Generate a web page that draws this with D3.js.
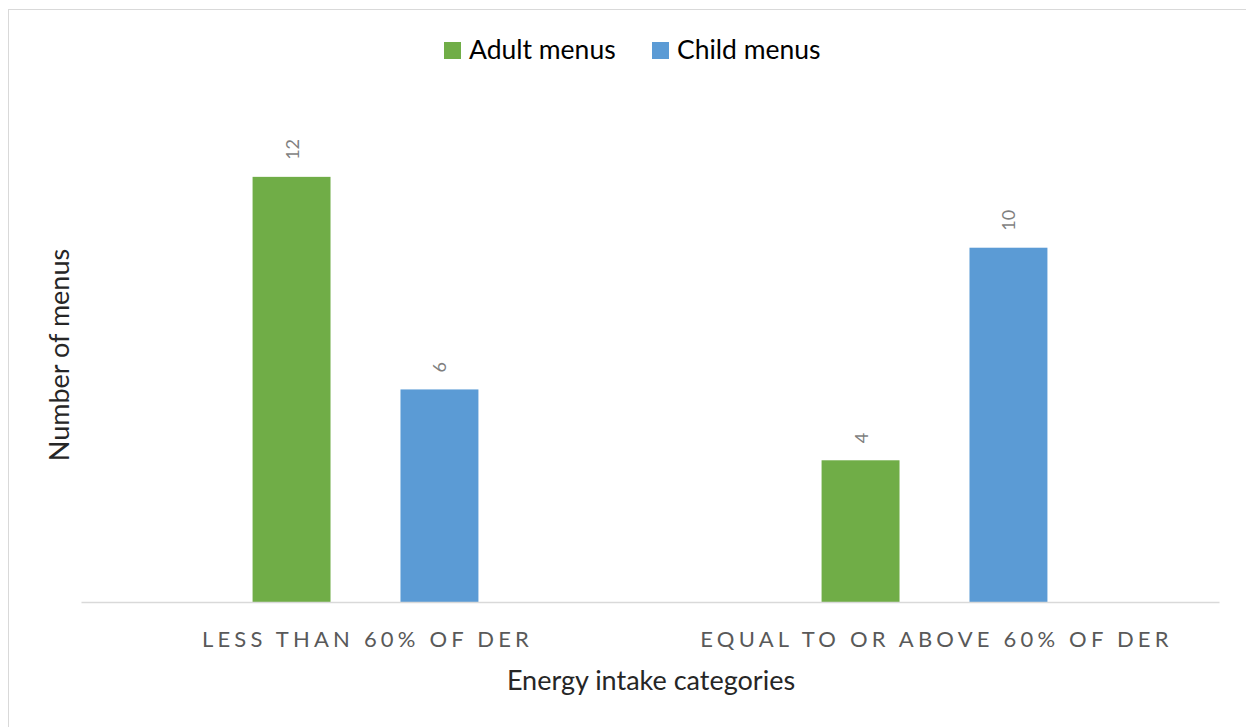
<!DOCTYPE html>
<html>
  <head>
    <meta charset="utf-8">
    <script src="https://cdn.jsdelivr.net/npm/d3@7"></script>
    <style>
      body { margin: 0; background: #fff; }
      text { font-family: Lato, "Open Sans", sans-serif; }
    </style>
  </head>
  <body>
    <svg id="chart" width="1246" height="727"></svg>
    <script>
      // chart data
      var categories = ["LESS THAN 60% OF DER", "EQUAL TO OR ABOVE 60% OF DER"];
      var seriesNames = ["Adult menus", "Child menus"];
      var adultValues = [12, 4];
      var childValues = [6, 10];
      var colors = ["#70ad47", "#5b9bd5"];

      var svg = d3.select("#chart");

      // outer frame (right and bottom edges fall off the picture)
      svg.append("rect")
        .attr("x", 8.5).attr("y", 9.5)
        .attr("width", 1260).attr("height", 740)
        .attr("fill", "none")
        .attr("stroke", "#d9d9d9")
        .attr("stroke-width", 1);

      var margin = {left: 81, right: 1219, top: 106, bottom: 602};

      var x0 = d3.scaleBand()
        .domain(categories)
        .range([margin.left, margin.right])
        .paddingInner(0)
        .paddingOuter(0);

      var x1 = d3.scaleBand()
        .domain(seriesNames)
        .range([0, x0.bandwidth()])
        .paddingInner(0.473)   // gap between the two bars
        .paddingOuter(1.16);

      var y = d3.scaleLinear()
        .domain([0, 14])
        .range([margin.bottom, margin.top]);

      var rows = categories.map(function(c, i) {
        return {cat: c, vals: [
          {name: seriesNames[0], v: adultValues[i], color: colors[0]},
          {name: seriesNames[1], v: childValues[i], color: colors[1]}
        ]};
      });

      var groups = svg.selectAll("g.cat").data(rows)
        .enter().append("g")
        .attr("class", "cat")
        .attr("transform", function(d) { return "translate(" + x0(d.cat) + ",0)"; });

      groups.selectAll("rect").data(function(d) { return d.vals; })
        .enter().append("rect")
        .attr("x", function(d) { return x1(d.name); })
        .attr("y", function(d) { return y(d.v); })
        .attr("width", x1.bandwidth())
        .attr("height", function(d) { return y(0) - y(d.v); })
        .attr("fill", function(d) { return d.color; });

      // rotated value labels
      groups.selectAll("text.val").data(function(d) { return d.vals; })
        .enter().append("text")
        .attr("class", "val")
        .attr("transform", function(d) {
          return "translate(" + (x1(d.name) + x1.bandwidth() / 2 + 7) + "," + (y(d.v) - 17) + ") rotate(-90)";
        })
        .attr("text-anchor", "start")
        .attr("font-size", 18)
        .attr("fill", "#7f7f7f")
        .text(function(d) { return d.v; });

      // x axis
      var xAxis = svg.append("g")
        .attr("transform", "translate(0," + margin.bottom + ")")
        .call(d3.axisBottom(x0).tickSize(0).tickPadding(0));
      xAxis.select(".domain").attr("stroke", "#d9d9d9").attr("stroke-width", 1.5);
      xAxis.selectAll(".tick text")
        .attr("x", 2)
        .attr("y", 45)
        .attr("dy", 0)
        .attr("font-size", 22)
        .attr("letter-spacing", "4.2px")
        .attr("fill", "#595959")
        .style("font-family", "Lato, 'Open Sans', sans-serif");

      // axis titles
      svg.append("text")
        .attr("x", 651).attr("y", 690)
        .attr("text-anchor", "middle")
        .attr("font-size", 27)
        .attr("fill", "#262626")
        .text("Energy intake categories");

      svg.append("text")
        .attr("transform", "translate(69,355) rotate(-90)")
        .attr("text-anchor", "middle")
        .attr("font-size", 27)
        .attr("fill", "#262626")
        .text("Number of menus");

      // legend
      var legendX = [444, 652];
      var legend = svg.selectAll("g.leg").data(seriesNames)
        .enter().append("g")
        .attr("class", "leg")
        .attr("transform", function(d, i) { return "translate(" + legendX[i] + ",42)"; });
      legend.append("rect")
        .attr("width", 17).attr("height", 17)
        .attr("fill", function(d, i) { return colors[i]; });
      legend.append("text")
        .attr("x", 25).attr("y", 17)
        .attr("font-size", 26.5)
        .attr("fill", "#000")
        .text(function(d) { return d; });
    </script>
  </body>
</html>
